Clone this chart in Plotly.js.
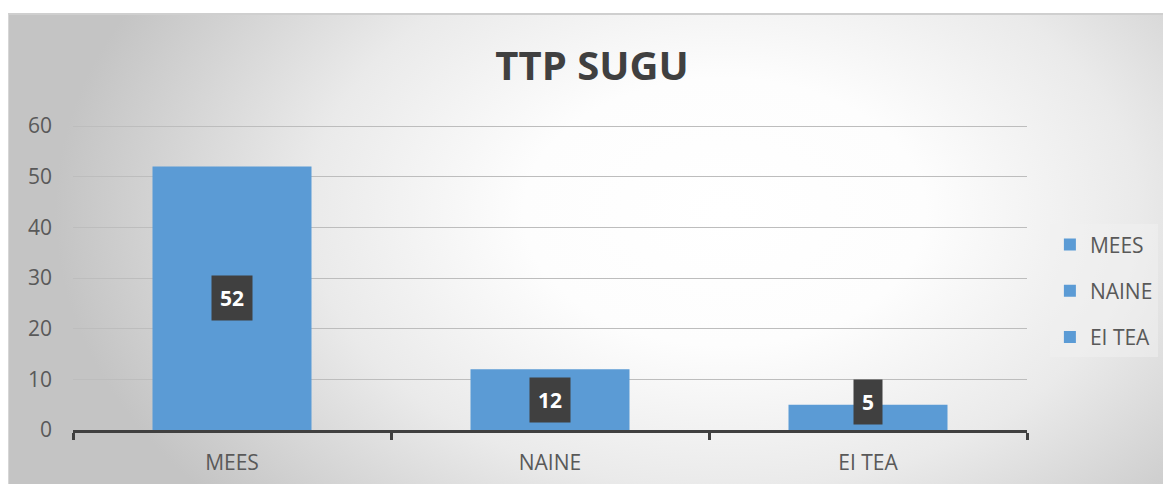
<!DOCTYPE html>
<html>
<head>
<meta charset="utf-8">
<script src="https://cdn.plot.ly/plotly-3.0.1.min.js"></script>
<style>
  html, body { margin: 0; padding: 0; background: #ffffff; }
  #wrap { position: relative; width: 1164px; height: 485px; overflow: hidden; }
  #frame {
    position: absolute; left: 8px; top: 13px; width: 1154px; height: 469px;
    border-top: 2px solid #cfcfcf; border-left: 1px solid #d6d6d6;
    background: radial-gradient(ellipse 58% 95% at 62% 42%, #ffffff 0%, #fdfdfd 30%, #eaeaea 62%, #d4d4d4 84%, #c4c4c4 100%);
  }
  #chart { position: absolute; left: 0; top: 0; width: 1164px; height: 485px; }
</style>
</head>
<body>
<div id="wrap">
  <div id="frame"></div>
  <div id="chart"></div>
</div>
<script>
const categories = ["MEES", "NAINE", "EI TEA"];
const values = [52, 12, 5];
const yTicks = [0, 10, 20, 30, 40, 50, 60];
const chartTitle = "TTP SUGU";

const barColor = "#5b9bd5";
const textColor = "#595959";
const font = "'Open Sans', 'Noto Sans', sans-serif";

const traces = categories.map((c, i) => ({
  type: "bar",
  name: c,
  x: [c],
  y: [values[i]],
  width: 0.5,
  marker: { color: barColor },
  legendgroup: "g" + i,
  hoverinfo: "x+y"
}));

const annotations = categories.map((c, i) => ({
  x: c,
  y: Math.max(values[i] / 2, 5.6),
  xref: "x",
  yref: "y",
  text: "<b>" + values[i] + "</b>",
  showarrow: false,
  font: { family: font, size: 21, color: "#ffffff" },
  bgcolor: "#404040",
  borderpad: 8,
  xanchor: "center",
  yanchor: "middle"
}));

const layout = {
  width: 1164,
  height: 485,
  margin: { l: 73, r: 137, t: 124, b: 55, autoexpand: false },
  paper_bgcolor: "rgba(0,0,0,0)",
  plot_bgcolor: "rgba(0,0,0,0)",
  barmode: "overlay",
  showlegend: true,
  title: {
    text: "<b>" + chartTitle + "</b>",
    font: { family: font, size: 40, color: "#404040" },
    x: (592 - 73) / 954, xref: "paper", xanchor: "center",
    y: 1 - 66 / 485, yref: "container", yanchor: "middle"
  },
  xaxis: {
    type: "category",
    categoryorder: "array",
    categoryarray: categories,
    showline: true,
    linecolor: "#404040",
    linewidth: 3,
    ticks: "outside",
    tickson: "boundaries",
    ticklen: 7,
    tickwidth: 3,
    tickcolor: "#404040",
    showgrid: false,
    tickfont: { family: font, size: 21, color: textColor },
    ticklabelstandoff: 12,
    fixedrange: true
  },
  yaxis: {
    range: [0, 60.4],
    tickvals: yTicks,
    ticktext: yTicks.map(String),
    showline: false,
    zeroline: false,
    showgrid: true,
    gridcolor: "#bdbdbd",
    gridwidth: 1,
    ticks: "",
    ticklabelstandoff: 20,
    tickfont: { family: font, size: 21, color: textColor },
    fixedrange: true
  },
  legend: {
    x: 1.024, xanchor: "left",
    y: 0.672, yanchor: "top",
    bgcolor: "rgba(240,240,240,0.55)",
    font: { family: font, size: 21, color: textColor },
    traceorder: "grouped",
    tracegroupgap: 16,
    itemwidth: 30
  },
  annotations: annotations
};

Plotly.newPlot("chart", traces, layout, { displayModeBar: false, staticPlot: true });
</script>
</body>
</html>
